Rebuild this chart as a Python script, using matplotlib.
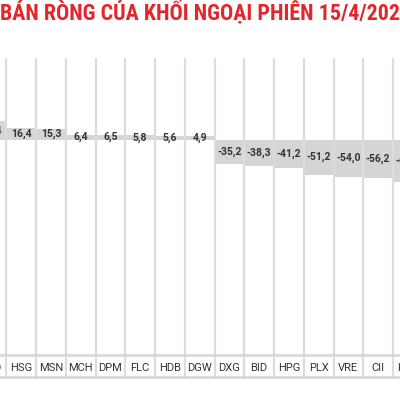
import matplotlib
matplotlib.use('Agg')
import matplotlib.pyplot as plt
from matplotlib import font_manager as fm
from matplotlib.lines import Line2D

categories = ['VND', 'HSG', 'MSN', 'MCH', 'DPM', 'FLC', 'HDB', 'DGW',
              'DXG', 'BID', 'HPG', 'PLX', 'VRE', 'CII', 'KBC']
values = [26.4, 16.4, 15.3, 6.4, 6.5, 5.8, 5.6, 4.9,
          -35.2, -38.3, -41.2, -51.2, -54.0, -56.2, -61.0]
title = 'BÁN RÒNG CỦA KHỐI NGOẠI PHIÊN 15/4/2021'

plt.rcParams['font.family'] = ['Roboto', 'DejaVu Sans']

# pick a condensed bold font for the title if one is installed
cands = []
for f in fm.fontManager.ttflist:
    fn = f.fname.lower()
    if ('condensed' in fn or 'narrow' in fn) and ('bold' in fn) and 'oblique' not in fn and 'italic' not in fn:
        cands.append(f)
cands.sort(key=lambda f: (0 if 'roboto' in f.fname.lower() else 1 if 'liberation' in f.fname.lower() else 2))
if cands:
    tprop = fm.FontProperties(fname=cands[0].fname)
else:
    tprop = fm.FontProperties(family='DejaVu Sans', weight='bold', stretch='condensed')

W = 400.0
fig = plt.figure(figsize=(4, 4), dpi=100)
fig.patch.set_facecolor('white')
ax = fig.add_axes([-23.5 / W, 45 / W, 446.25 / W, 297 / W])
x = list(range(len(categories)))
bars = ax.bar(x, values, width=1.0, color='#d5d5d5', zorder=1)
labels = [f'{v:.1f}'.replace('.', ',') for v in values]
ax.bar_label(bars, labels=labels, label_type='center', fontsize=7.5,
             fontweight='bold', color='#333333', zorder=3)
ax.set_xlim(-0.5, len(categories) - 0.5)
ax.set_ylim(-312, 118)
ax.set_yticks([])
ax.set_xticks(x)
ax.set_xticklabels(categories, fontsize=8, color='#333333')
ax.tick_params(axis='x', length=0, pad=6)
for s in ax.spines.values():
    s.set_visible(False)

bounds = [i - 0.5 for i in range(len(categories) + 1)]
ax.vlines(bounds, -22 / 297, 1, transform=ax.get_xaxis_transform(),
          colors='#dcdcdc', linewidth=1.6, clip_on=False, zorder=2)
for yp in (355, 377):
    fig.add_artist(Line2D([0, 1], [1 - yp / W, 1 - yp / W], color='#d6d6d6',
                          linewidth=1.8, transform=fig.transFigure))

# fit title so that the text up to "202" spans the figure width
renderer = fig.canvas.get_renderer()
probe = fig.text(0, 0, title[:-1], fontproperties=tprop, fontsize=15)
wpx = probe.get_window_extent(renderer).width
probe.remove()
fs = 15 * 402.0 / wpx
t = fig.text(0.0, 1 - 12.5 / W, title, ha='left', va='center',
             fontproperties=tprop, color='#e3262b')
t.set_fontsize(fs)

fig.savefig('out.png', dpi=100)
